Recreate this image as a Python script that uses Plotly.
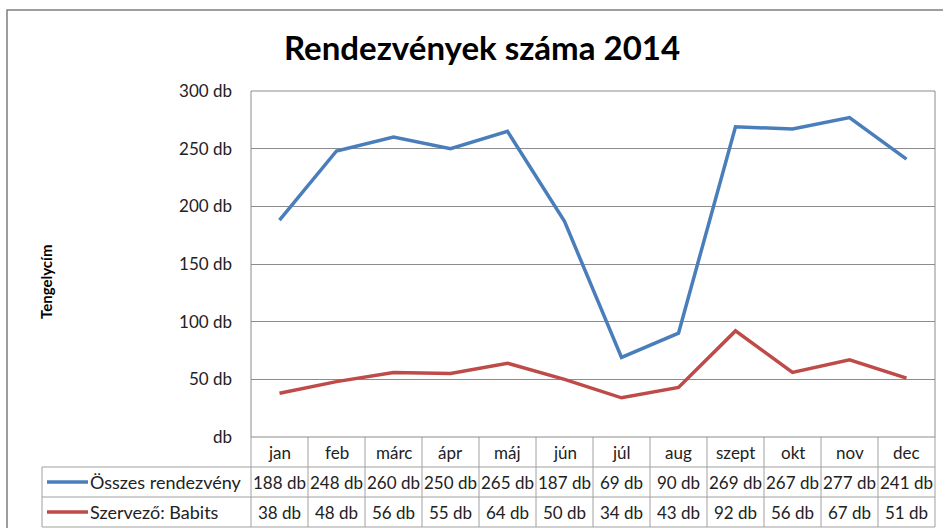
import plotly.graph_objects as go

months = ["jan", "feb", "márc", "ápr", "máj", "jún", "júl", "aug", "szept", "okt", "nov", "dec"]
osszes = [188, 248, 260, 250, 265, 187, 69, 90, 269, 267, 277, 241]
babits = [38, 48, 56, 55, 64, 50, 34, 43, 92, 56, 67, 51]
series_names = ["Összes rendezvény", "Szervező: Babits"]
series_colors = ["#4A7EBB", "#BE4B48"]
y_ticks = [0, 50, 100, 150, 200, 250, 300]
y_ticktext = ["db", "50 db", "100 db", "150 db", "200 db", "250 db", "300 db"]
title = "Rendezvények száma 2014"
y_title = "Tengelycím"

W, H = 943, 528
L, R, T, B = 251, 935, 91, 437  # plot area in pixels
pw, ph = R - L, B - T

def px(x):
    return (x - L) / pw

def py(y):
    return (B - y) / ph

FONT = "Lato"
GRID = "#8C8C8C"
TAB = "#A0A0A0"
TXT = "#222222"

fig = go.Figure()
for name, vals, col in zip(series_names, [osszes, babits], series_colors):
    fig.add_trace(go.Scatter(x=months, y=vals, mode="lines", name=name,
                             line=dict(color=col, width=3.5), showlegend=False,
                             hoverinfo="skip"))

shapes = []
annotations = []

# outer chart border
shapes.append(dict(type="rect", xref="paper", yref="paper",
                   x0=px(7), x1=px(990), y0=py(10), y1=py(560),
                   line=dict(color="#7F7F7F", width=1.5), layer="below"))

# table
row_s = [(467, 497), (497, 527)]
ncol = len(months)
for yy in [467, 497, 527]:
    shapes.append(dict(type="line", xref="paper", yref="paper",
                       x0=px(42), x1=1, y0=py(yy), y1=py(yy),
                       line=dict(color=TAB, width=1)))
for k in range(ncol + 1):
    shapes.append(dict(type="line", xref="paper", yref="paper",
                       x0=k / ncol, x1=k / ncol, y0=py(437), y1=py(527),
                       line=dict(color=TAB, width=1)))
shapes.append(dict(type="line", xref="paper", yref="paper",
                   x0=px(42), x1=px(42), y0=py(467), y1=py(527),
                   line=dict(color=TAB, width=1)))

for m in months:
    annotations.append(dict(x=m, xref="x", y=py(452), yref="paper", text=m,
                            xanchor="center", yanchor="middle",
                            showarrow=False, font=dict(family=FONT, size=17, color=TXT)))
for (y0, y1), vals, name, col in zip(row_s, [osszes, babits], series_names, series_colors):
    yc = (y0 + y1) / 2
    for m, v in zip(months, vals):
        annotations.append(dict(x=m, xref="x", y=py(yc), yref="paper", text=f"{v} db",
                                xanchor="center", yanchor="middle",
                                showarrow=False, font=dict(family=FONT, size=17, color=TXT)))
    shapes.append(dict(type="line", xref="paper", yref="paper",
                       x0=px(47), x1=px(88), y0=py(yc), y1=py(yc),
                       line=dict(color=col, width=3.5)))
    annotations.append(dict(x=px(88), xref="paper", y=py(yc), yref="paper", text=name,
                            xanchor="left", yanchor="middle", showarrow=False,
                            font=dict(family=FONT, size=18, color=TXT)))

annotations.append(dict(x=px(482), xref="paper", y=py(47), yref="paper", text=f"<b>{title}</b>",
                        xanchor="center", yanchor="middle",
                        showarrow=False, font=dict(family=FONT, size=33, color="#000")))
annotations.append(dict(x=px(46), xref="paper", y=py(282), yref="paper", text=f"<b>{y_title}</b>",
                        xanchor="center", yanchor="middle",
                        textangle=-90, showarrow=False, font=dict(family=FONT, size=15, color="#000")))

# plot area border lines
for (x0, x1, y0, y1) in [(0, 0, 0, 1), (1, 1, 0, 1), (0, 1, 1, 1), (0, 1, 0, 0)]:
    shapes.append(dict(type="line", xref="paper", yref="paper", x0=x0, x1=x1, y0=y0, y1=y1,
                       line=dict(color=GRID, width=1)))

fig.update_layout(
    width=W, height=H,
    margin=dict(l=L, r=W - R, t=T, b=H - B, autoexpand=False),
    paper_bgcolor="white", plot_bgcolor="white",
    shapes=shapes, annotations=annotations,
    hovermode=False,
    xaxis=dict(type="category", range=[-0.5, 11.5], showticklabels=False, showgrid=False,
               zeroline=False, showline=False, ticks=""),
    yaxis=dict(range=[0, 300], tickvals=y_ticks, ticktext=y_ticktext, showgrid=True,
               gridcolor=GRID, gridwidth=1, zeroline=False, showline=False, ticks="",
               ticklabelstandoff=18,
               tickfont=dict(family=FONT, size=17, color=TXT)),
)

fig.write_html("out.html", config={"displayModeBar": False},
               post_script="document.body.style.margin='0';document.body.style.overflow='hidden';")
